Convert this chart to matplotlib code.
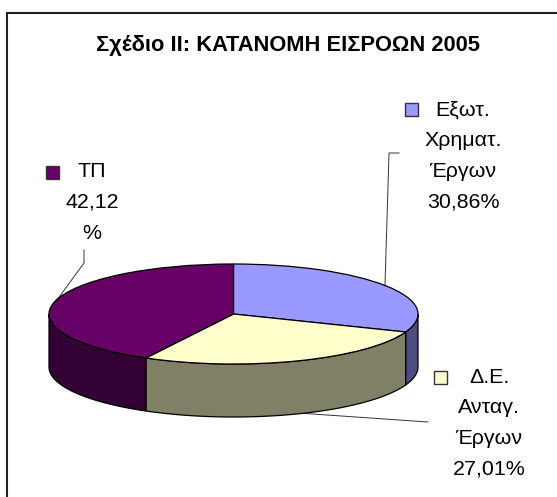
import numpy as np
import matplotlib
matplotlib.use('Agg')
import matplotlib.pyplot as plt
from matplotlib.patches import Rectangle

plt.rcParams['font.family'] = ['Liberation Sans', 'DejaVu Sans']

title = 'Σχέδιο ΙΙ: ΚΑΤΑΝΟΜΗ ΕΙΣΡΟΩΝ 2005'
labels = ['Εξωτ.\nΧρηματ.\nΈργων\n30,86%', 'Δ.Ε.\nΑνταγ.\nΈργων\n27,01%', 'ΤΠ\n42,12\n%']
values = [30.86, 27.01, 42.12]
top_colors = ['#9999FF', '#FFFFCC', '#660066']
side_colors = ['#4D4D80', '#808066', '#330033']

W, H = 557, 497
fig = plt.figure(figsize=(W / 100, H / 100), dpi=100, facecolor='white')

# overlay in image pixels, for frame, labels and leader lines
bg = fig.add_axes([0, 0, 1, 1])
bg.set_xlim(0, W)
bg.set_ylim(H, 0)
bg.axis('off')
bg.plot([7, 7, W], [H, 13, 13], color='#222222', lw=1.5, solid_joinstyle='miter')

# pie ellipse: x 49..418, y 264..364
left, right, top, bottom = 49, 418, 264, 364
depth = 53 / ((bottom - top) / 2)
ax = fig.add_axes([left / W, 1 - bottom / H, (right - left) / W, (bottom - top) / H])
ax.patch.set_alpha(0)

wedges, _ = ax.pie(values, colors=top_colors, startangle=90, counterclock=False, radius=1,
                   wedgeprops={'edgecolor': 'black', 'linewidth': 0.9, 'zorder': 5})
ax.set_aspect('auto')
ax.set_xlim(-1, 1)
ax.set_ylim(-1, 1)

# side wall, only the front half of the rim
bounds = 90 - np.cumsum([0] + values) / sum(values) * 360
for i in range(len(values)):
    a0, a1 = bounds[i], bounds[i + 1]
    a0 = min(a0, 0) if a0 > -180 else a0
    a1 = max(a1, -180)
    if a0 <= a1:
        continue
    t = np.radians(np.linspace(a0, a1, 80))
    xs = np.cos(t)
    ys = np.sin(t)
    ax.fill(np.r_[xs, xs[::-1]], np.r_[ys, ys[::-1] - depth], fc=side_colors[i], ec='black',
            lw=0.9, clip_on=False, zorder=2)

bg.text(288, 45, title, fontsize=15.75, fontweight='bold', ha='center', va='center', color='black')

key_size = 13
for (kx, ky), (tx, ty), txt, c, in zip([(411, 109), (440, 377), (52, 172)],
                                        [(463, 156), (489, 423), (92, 202.5)],
                                        labels, top_colors):
    bg.add_patch(Rectangle((kx - key_size / 2, ky - key_size / 2), key_size, key_size,
                           fc=c, ec='#333333', lw=1.0))
    bg.text(tx, ty, txt, fontsize=15.4, ha='center', va='center', linespacing=1.77, color='black')

# leader lines
bg.plot([399, 389, 385], [153, 153, 285], color='#333333', lw=0.7)
bg.plot([428, 298], [422, 413], color='#333333', lw=0.7)
bg.plot([84, 84, 57], [250, 263, 300], color='#333333', lw=0.7)

fig.savefig('out.png', dpi=100)
